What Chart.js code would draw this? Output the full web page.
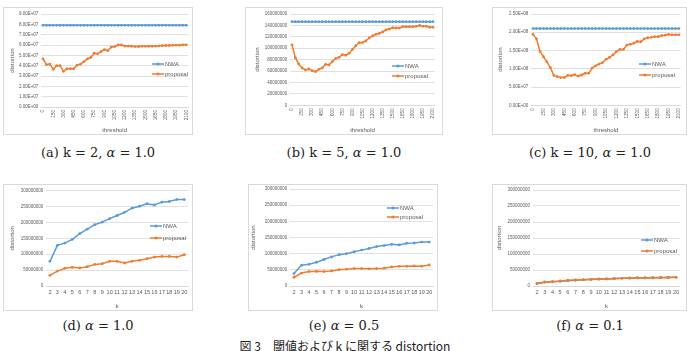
<!DOCTYPE html>
<html>
<head>
<meta charset="utf-8">
<script src="https://cdn.jsdelivr.net/npm/chart.js@4.4.1/dist/chart.umd.min.js"></script>
<style>
    body { margin: 0; width: 687px; height: 351px; position: relative; overflow: hidden; background: #fff; }
    .frame { position: absolute; border: 1px solid #d9d9d9; box-sizing: border-box; background: #fff; }
    .frame canvas { position: absolute; left: 0; top: 0; }
    .cap { position: absolute; transform: translateX(-50%); white-space: nowrap; color: #222;
           font-family: 'DejaVu Serif', 'Liberation Serif', serif; font-size: 13px; }
    .figcap { position: absolute; transform: translateX(-50%); white-space: nowrap; color: #222;
              font-family: 'Noto Sans CJK JP', sans-serif; font-size: 12px; }
</style>
</head>
<body>
<div class="frame" style="left:3px;top:7px;width:190px;height:128px"><canvas id="chartA" width="188" height="126"></canvas></div>
<div class="frame" style="left:245px;top:7px;width:198px;height:128px"><canvas id="chartB" width="196" height="126"></canvas></div>
<div class="frame" style="left:492px;top:7px;width:195px;height:128px"><canvas id="chartC" width="193" height="126"></canvas></div>
<div class="frame" style="left:3px;top:184px;width:190px;height:127px"><canvas id="chartD" width="188" height="125"></canvas></div>
<div class="frame" style="left:248px;top:184px;width:190px;height:127px"><canvas id="chartE" width="188" height="125"></canvas></div>
<div class="frame" style="left:492px;top:184px;width:195px;height:127px"><canvas id="chartF" width="193" height="125"></canvas></div>

<div class="cap" style="left:98px;top:145px">(a) k = 2, <i>α</i> = 1.0</div>
<div class="cap" style="left:344px;top:145px">(b) k = 5, <i>α</i> = 1.0</div>
<div class="cap" style="left:590px;top:145px">(c) k = 10, <i>α</i> = 1.0</div>
<div class="cap" style="left:98px;top:318px">(d) <i>α</i> = 1.0</div>
<div class="cap" style="left:344px;top:318px">(e) <i>α</i> = 0.5</div>
<div class="cap" style="left:590px;top:318px">(f) <i>α</i> = 0.1</div>
<div class="figcap" style="left:345px;top:337px">図 3　閾値および k に関する distortion</div>

<script>
const thresholds = ['0', '50', '100', '150', '200', '250', '300', '350', '400', '450', '500',
    '550', '600', '650', '700', '750', '800', '850', '900', '950', '1000', '1050', '1100',
    '1150', '1200', '1250', '1300', '1350', '1400', '1450', '1500', '1550', '1600', '1650',
    '1700', '1750', '1800', '1850', '1900', '1950', '2000', '2050', '2100'];
const kValues = ['2', '3', '4', '5', '6', '7', '8', '9', '10', '11', '12', '13', '14', '15',
    '16', '17', '18', '19', '20'];

// (a) k = 2
const nwaK2 = [7.9e7, 7.9e7, 7.9e7, 7.9e7, 7.9e7, 7.9e7, 7.9e7, 7.9e7, 7.9e7, 7.9e7, 7.9e7,
    7.9e7, 7.9e7, 7.9e7, 7.9e7, 7.9e7, 7.9e7, 7.9e7, 7.9e7, 7.9e7, 7.9e7, 7.9e7, 7.9e7,
    7.9e7, 7.9e7, 7.9e7, 7.9e7, 7.9e7, 7.9e7, 7.9e7, 7.9e7, 7.9e7, 7.9e7, 7.9e7, 7.9e7,
    7.9e7, 7.9e7, 7.9e7, 7.9e7, 7.9e7, 7.9e7, 7.9e7, 7.9e7];
const proposalK2 = [4.65e7, 4.1e7, 4.15e7, 3.65e7, 4.0e7, 4.0e7, 3.45e7, 3.7e7, 3.7e7, 3.7e7,
    4.05e7, 4.15e7, 4.4e7, 4.65e7, 4.8e7, 5.2e7, 5.15e7, 5.35e7, 5.55e7, 5.45e7, 5.8e7,
    5.85e7, 6.0e7, 6.0e7, 5.9e7, 5.9e7, 5.88e7, 5.85e7, 5.85e7, 5.87e7, 5.87e7, 5.88e7,
    5.88e7, 5.9e7, 5.92e7, 5.93e7, 5.95e7, 5.95e7, 5.97e7, 5.98e7, 5.98e7, 6.02e7, 6.02e7];

// (b) k = 5
const nwaK5 = [146.6e6, 146.6e6, 146.6e6, 146.6e6, 146.6e6, 146.6e6, 146.6e6, 146.6e6,
    146.6e6, 146.6e6, 146.6e6, 146.6e6, 146.6e6, 146.6e6, 146.6e6, 146.6e6, 146.6e6,
    146.6e6, 146.6e6, 146.6e6, 146.6e6, 146.6e6, 146.6e6, 146.6e6, 146.6e6, 146.6e6,
    146.6e6, 146.6e6, 146.6e6, 146.6e6, 146.6e6, 146.6e6, 146.6e6, 146.6e6, 146.6e6,
    146.6e6, 146.6e6, 146.6e6, 146.6e6, 146.6e6, 146.6e6, 146.6e6, 146.6e6];
const proposalK5 = [106e6, 83.5e6, 72.4e6, 65.4e6, 62e6, 63.6e6, 60.7e6, 59e6, 63e6, 65.4e6,
    71.8e6, 70.6e6, 76.5e6, 81.8e6, 84e6, 88.8e6, 87.6e6, 91e6, 98e6, 104.5e6, 109.8e6,
    110e6, 112.7e6, 118e6, 121.5e6, 124.4e6, 126e6, 128.5e6, 132e6, 133.7e6, 136e6,
    135.5e6, 135.5e6, 137.8e6, 137.8e6, 137.8e6, 137.8e6, 138.4e6, 140e6, 138.4e6,
    138.4e6, 136.7e6, 136.7e6];

// (c) k = 10
const nwaK10 = [2.1e8, 2.1e8, 2.1e8, 2.1e8, 2.1e8, 2.1e8, 2.1e8, 2.1e8, 2.1e8, 2.1e8, 2.1e8,
    2.1e8, 2.1e8, 2.1e8, 2.1e8, 2.1e8, 2.1e8, 2.1e8, 2.1e8, 2.1e8, 2.1e8, 2.1e8, 2.1e8,
    2.1e8, 2.1e8, 2.1e8, 2.1e8, 2.1e8, 2.1e8, 2.1e8, 2.1e8, 2.1e8, 2.1e8, 2.1e8, 2.1e8,
    2.1e8, 2.1e8, 2.1e8, 2.1e8, 2.1e8, 2.1e8, 2.1e8, 2.1e8];
const proposalK10 = [1.94e8, 1.82e8, 1.47e8, 1.33e8, 1.19e8, 1.03e8, 0.82e8, 0.785e8, 0.76e8,
    0.76e8, 0.82e8, 0.81e8, 0.84e8, 0.80e8, 0.83e8, 0.876e8, 0.876e8, 1.02e8, 1.08e8,
    1.13e8, 1.17e8, 1.26e8, 1.31e8, 1.38e8, 1.47e8, 1.53e8, 1.53e8, 1.65e8, 1.67e8, 1.70e8,
    1.75e8, 1.74e8, 1.82e8, 1.85e8, 1.86e8, 1.88e8, 1.88e8, 1.91e8, 1.92e8, 1.94e8,
    1.93e8, 1.93e8, 1.93e8];

// (d) alpha = 1.0
const nwaA10 = [77.6e6, 128e6, 135e6, 147e6, 165e6, 179e6, 193e6, 201e6, 212e6, 222e6,
    232e6, 245e6, 251e6, 259e6, 255e6, 264e6, 266e6, 272e6, 272e6];
const proposalA10 = [33.6e6, 47e6, 55.6e6, 58.7e6, 56.6e6, 60.8e6, 68e6, 70e6, 77.6e6,
    77.6e6, 72.4e6, 77.6e6, 80.8e6, 86e6, 91e6, 93e6, 93e6, 91e6, 98.6e6];

// (e) alpha = 0.5
const nwaA05 = [38.3e6, 64e6, 67e6, 73.5e6, 82e6, 90e6, 97e6, 100e6, 106e6, 111e6, 116e6,
    122e6, 125e6, 129e6, 127e6, 132e6, 133e6, 136e6, 136e6];
const proposalA05 = [27e6, 40e6, 44.5e6, 45.5e6, 44.5e6, 46.5e6, 50.5e6, 52e6, 54e6, 54e6,
    53e6, 54e6, 55e6, 59e6, 61e6, 61e6, 62e6, 61e6, 65e6];

// (f) alpha = 0.1
const nwaA01 = [7.8e6, 12.8e6, 13.5e6, 14.7e6, 16.5e6, 17.9e6, 19.3e6, 20.1e6, 21.2e6,
    22.2e6, 23.2e6, 24.5e6, 25.1e6, 25.9e6, 25.5e6, 26.4e6, 26.6e6, 27.2e6, 27.2e6];
const proposalA01 = [7.3e6, 11.5e6, 13.5e6, 15.6e6, 17.7e6, 18.7e6, 19.8e6, 20.8e6, 21.9e6,
    21.9e6, 22.9e6, 24e6, 24e6, 25e6, 25e6, 25e6, 26e6, 26e6, 27e6];

const seriesNames = ['NWA', 'proposal'];
const seriesColors = ['#5b9bd5', '#ed7d31'];
const textColor = '#595959';
const fontFamily = "'Liberation Sans', Arial, sans-serif";

function sciLabel(value) {
    if (value === 0) {
        return '0.00E+00';
    }
    const exp = Math.floor(Math.log10(value) + 1e-9);
    const mant = value / Math.pow(10, exp);
    return mant.toFixed(2) + 'E+' + String(exp).padStart(2, '0');
}

function plainLabel(value) {
    return String(Math.round(value));
}

// Excel places this legend inside the plot area, so draw it by hand
const overlayLegend = {
    id: 'overlayLegend',
    afterDraw(chart, args, opts) {
        const ctx = chart.ctx;
        ctx.save();
        chart.data.datasets.forEach((ds, i) => {
            const y = opts.y + i * opts.gap;
            ctx.strokeStyle = ds.borderColor;
            ctx.fillStyle = ds.borderColor;
            ctx.lineWidth = 1.5;
            ctx.beginPath();
            ctx.moveTo(opts.x, y);
            ctx.lineTo(opts.x + 12, y);
            ctx.stroke();
            ctx.beginPath();
            ctx.arc(opts.x + 6, y, 1.5, 0, Math.PI * 2);
            ctx.fill();
            ctx.fillStyle = textColor;
            ctx.font = '6px ' + fontFamily;
            ctx.textBaseline = 'middle';
            ctx.textAlign = 'left';
            ctx.fillText(ds.label, opts.x + 13, y);
        });
        ctx.restore();
    },
};

function renderPanel(cfg) {
    const canvas = document.getElementById(cfg.id);
    const ox = cfg.frame[0] + 1;
    const oy = cfg.frame[1] + 1;
    const [left, top, right, bottom] = cfg.plot;
    const yWidth = left - ox;
    const xHeight = oy + canvas.height - bottom;
    const rotated = cfg.rotated;

    new Chart(canvas, {
        type: 'line',
        data: {
            labels: cfg.labels,
            datasets: [cfg.nwa, cfg.proposal].map((values, i) => ({
                label: seriesNames[i],
                data: values,
                borderColor: seriesColors[i],
                backgroundColor: seriesColors[i],
                pointBackgroundColor: seriesColors[i],
                pointBorderWidth: 0,
                pointRadius: 1.4,
                borderWidth: 1.5,
                tension: 0,
                order: 1 - i,
            })),
        },
        options: {
            responsive: false,
            animation: false,
            devicePixelRatio: 1,
            layout: {
                padding: { left: 0, top: top - oy, right: ox + canvas.width - right, bottom: 0 },
            },
            plugins: {
                legend: { display: false },
                tooltip: { enabled: false },
                overlayLegend: { x: cfg.legend[0] - ox, y: cfg.legend[1] - oy, gap: cfg.legend[2] },
            },
            scales: {
                x: {
                    type: 'category',
                    offset: true,
                    grid: { display: false, drawTicks: false },
                    border: { color: '#d9d9d9', width: 1 },
                    ticks: {
                        autoSkip: false,
                        minRotation: rotated ? 90 : 0,
                        maxRotation: rotated ? 90 : 0,
                        padding: 3,
                        color: textColor,
                        font: { family: fontFamily, size: rotated ? 4.6 : 5.5 },
                        callback: (value, index) => (index % cfg.every === 0) ? cfg.labels[index] : '',
                    },
                    title: {
                        display: true,
                        text: cfg.xTitle,
                        color: textColor,
                        font: { family: fontFamily, size: 6 },
                        padding: { top: cfg.xTitlePad, bottom: 0 },
                    },
                    afterFit(scale) {
                        scale.height = xHeight;
                        scale.paddingLeft = 0;
                        scale.paddingRight = 0;
                    },
                },
                y: {
                    min: 0,
                    max: cfg.yMax,
                    grid: { color: '#e0e0e0', lineWidth: 1, drawTicks: false },
                    border: { display: false },
                    ticks: {
                        stepSize: cfg.yStep,
                        padding: 3,
                        color: textColor,
                        font: { family: fontFamily, size: 4.5 },
                        callback: (value) => cfg.yFormat(value),
                    },
                    title: {
                        display: true,
                        text: 'distortion',
                        color: textColor,
                        font: { family: fontFamily, size: 6 },
                        padding: { top: cfg.yTitleX - ox - 3.6, bottom: 0 },
                    },
                    afterFit(scale) {
                        scale.width = yWidth;
                        scale.paddingTop = 0;
                        scale.paddingBottom = 0;
                    },
                },
            },
        },
        plugins: [overlayLegend],
    });
}

renderPanel({ id: 'chartA', frame: [3, 7], plot: [41.3, 14, 190.7, 107], labels: thresholds, every: 3,
    rotated: true, nwa: nwaK2, proposal: proposalK2, yMax: 9e7, yStep: 1e7, yFormat: sciLabel,
    xTitle: 'threshold', xTitlePad: 2.7, yTitleX: 12, legend: [152, 64, 10] });
renderPanel({ id: 'chartB', frame: [245, 7], plot: [290.3, 14, 434.7, 105.3], labels: thresholds, every: 3,
    rotated: true, nwa: nwaK5, proposal: proposalK5, yMax: 160000000, yStep: 20000000, yFormat: plainLabel,
    xTitle: 'threshold', xTitlePad: 2.7, yTitleX: 257, legend: [392, 66, 10] });
renderPanel({ id: 'chartC', frame: [492, 7], plot: [531.3, 14, 680.7, 105.3], labels: thresholds, every: 3,
    rotated: true, nwa: nwaK10, proposal: proposalK10, yMax: 2.5e8, yStep: 5e7, yFormat: sciLabel,
    xTitle: 'threshold', xTitlePad: 2.7, yTitleX: 500, legend: [639, 64, 11] });
renderPanel({ id: 'chartD', frame: [3, 184], plot: [46.2, 190.7, 189.5, 286], labels: kValues, every: 1,
    rotated: false, nwa: nwaA10, proposal: proposalA10, yMax: 300000000, yStep: 50000000, yFormat: plainLabel,
    xTitle: 'k', xTitlePad: 3.7, yTitleX: 12, legend: [150, 226, 12] });
renderPanel({ id: 'chartE', frame: [248, 184], plot: [290.2, 189, 435.8, 286], labels: kValues, every: 1,
    rotated: false, nwa: nwaA05, proposal: proposalA05, yMax: 300000000, yStep: 50000000, yFormat: plainLabel,
    xTitle: 'k', xTitlePad: 3.7, yTitleX: 253, legend: [387, 208, 9] });
renderPanel({ id: 'chartF', frame: [492, 184], plot: [533.1, 190, 679.9, 286], labels: kValues, every: 1,
    rotated: false, nwa: nwaA01, proposal: proposalA01, yMax: 300000000, yStep: 50000000, yFormat: plainLabel,
    xTitle: 'k', xTitlePad: 3.7, yTitleX: 499, legend: [641, 240, 11] });
</script>
</body>
</html>
